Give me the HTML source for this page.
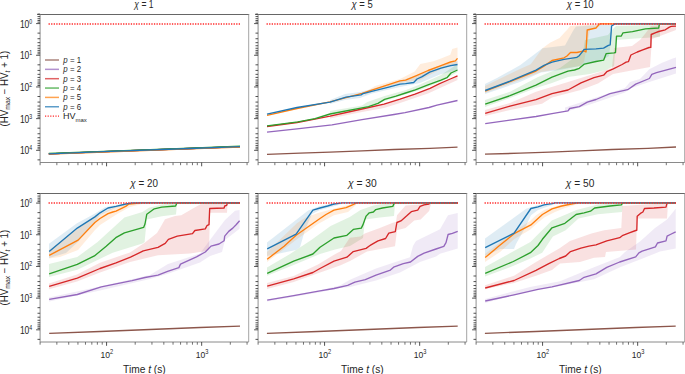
<!DOCTYPE html>
<html><head><meta charset="utf-8"><style>
html,body{margin:0;padding:0;background:#fff;overflow:hidden;}
svg{display:block;font-family:"Liberation Sans", sans-serif;}
</style></head><body>
<svg width="685" height="374" viewBox="0 0 685 374">
<rect width="685" height="374" fill="#fff"/>
<line x1="37.10" y1="14.50" x2="249.20" y2="14.50" stroke="#4a4a4a" stroke-width="0.85"/>
<line x1="40.10" y1="14.50" x2="40.10" y2="162.50" stroke="#999" stroke-width="1.1"/>
<line x1="248.70" y1="14.50" x2="248.70" y2="162.50" stroke="#a4a4a4" stroke-width="1.0"/>
<line x1="40.10" y1="162.50" x2="248.70" y2="162.50" stroke="#8a8a8a" stroke-width="1.0"/>
<line x1="40.10" y1="162.50" x2="40.10" y2="165.20" stroke="#5a5a5a" stroke-width="0.85"/>
<line x1="56.85" y1="162.50" x2="56.85" y2="165.20" stroke="#5a5a5a" stroke-width="0.85"/>
<line x1="68.73" y1="162.50" x2="68.73" y2="165.20" stroke="#5a5a5a" stroke-width="0.85"/>
<line x1="77.94" y1="162.50" x2="77.94" y2="165.20" stroke="#5a5a5a" stroke-width="0.85"/>
<line x1="85.47" y1="162.50" x2="85.47" y2="165.20" stroke="#5a5a5a" stroke-width="0.85"/>
<line x1="91.84" y1="162.50" x2="91.84" y2="165.20" stroke="#5a5a5a" stroke-width="0.85"/>
<line x1="97.36" y1="162.50" x2="97.36" y2="165.20" stroke="#5a5a5a" stroke-width="0.85"/>
<line x1="102.22" y1="162.50" x2="102.22" y2="165.20" stroke="#5a5a5a" stroke-width="0.85"/>
<line x1="106.57" y1="162.50" x2="106.57" y2="166.30" stroke="#333333" stroke-width="0.85"/>
<line x1="135.20" y1="162.50" x2="135.20" y2="165.20" stroke="#5a5a5a" stroke-width="0.85"/>
<line x1="151.95" y1="162.50" x2="151.95" y2="165.20" stroke="#5a5a5a" stroke-width="0.85"/>
<line x1="163.83" y1="162.50" x2="163.83" y2="165.20" stroke="#5a5a5a" stroke-width="0.85"/>
<line x1="173.04" y1="162.50" x2="173.04" y2="165.20" stroke="#5a5a5a" stroke-width="0.85"/>
<line x1="180.57" y1="162.50" x2="180.57" y2="165.20" stroke="#5a5a5a" stroke-width="0.85"/>
<line x1="186.94" y1="162.50" x2="186.94" y2="165.20" stroke="#5a5a5a" stroke-width="0.85"/>
<line x1="192.46" y1="162.50" x2="192.46" y2="165.20" stroke="#5a5a5a" stroke-width="0.85"/>
<line x1="197.32" y1="162.50" x2="197.32" y2="165.20" stroke="#5a5a5a" stroke-width="0.85"/>
<line x1="201.67" y1="162.50" x2="201.67" y2="166.30" stroke="#333333" stroke-width="0.85"/>
<line x1="230.30" y1="162.50" x2="230.30" y2="165.20" stroke="#5a5a5a" stroke-width="0.85"/>
<line x1="247.05" y1="162.50" x2="247.05" y2="165.20" stroke="#5a5a5a" stroke-width="0.85"/>
<line x1="37.50" y1="14.06" x2="40.10" y2="14.06" stroke="#333333" stroke-width="0.85"/>
<line x1="37.50" y1="16.57" x2="40.10" y2="16.57" stroke="#333333" stroke-width="0.85"/>
<line x1="37.50" y1="18.69" x2="40.10" y2="18.69" stroke="#333333" stroke-width="0.85"/>
<line x1="37.50" y1="20.53" x2="40.10" y2="20.53" stroke="#333333" stroke-width="0.85"/>
<line x1="37.50" y1="22.15" x2="40.10" y2="22.15" stroke="#333333" stroke-width="0.85"/>
<line x1="36.10" y1="23.60" x2="40.10" y2="23.60" stroke="#333333" stroke-width="0.85"/>
<line x1="37.50" y1="33.14" x2="40.10" y2="33.14" stroke="#333333" stroke-width="0.85"/>
<line x1="37.50" y1="38.72" x2="40.10" y2="38.72" stroke="#333333" stroke-width="0.85"/>
<line x1="37.50" y1="42.67" x2="40.10" y2="42.67" stroke="#333333" stroke-width="0.85"/>
<line x1="37.50" y1="45.74" x2="40.10" y2="45.74" stroke="#333333" stroke-width="0.85"/>
<line x1="37.50" y1="48.25" x2="40.10" y2="48.25" stroke="#333333" stroke-width="0.85"/>
<line x1="37.50" y1="50.37" x2="40.10" y2="50.37" stroke="#333333" stroke-width="0.85"/>
<line x1="37.50" y1="52.21" x2="40.10" y2="52.21" stroke="#333333" stroke-width="0.85"/>
<line x1="37.50" y1="53.83" x2="40.10" y2="53.83" stroke="#333333" stroke-width="0.85"/>
<line x1="36.10" y1="55.28" x2="40.10" y2="55.28" stroke="#333333" stroke-width="0.85"/>
<line x1="37.50" y1="64.82" x2="40.10" y2="64.82" stroke="#333333" stroke-width="0.85"/>
<line x1="37.50" y1="70.40" x2="40.10" y2="70.40" stroke="#333333" stroke-width="0.85"/>
<line x1="37.50" y1="74.35" x2="40.10" y2="74.35" stroke="#333333" stroke-width="0.85"/>
<line x1="37.50" y1="77.42" x2="40.10" y2="77.42" stroke="#333333" stroke-width="0.85"/>
<line x1="37.50" y1="79.93" x2="40.10" y2="79.93" stroke="#333333" stroke-width="0.85"/>
<line x1="37.50" y1="82.05" x2="40.10" y2="82.05" stroke="#333333" stroke-width="0.85"/>
<line x1="37.50" y1="83.89" x2="40.10" y2="83.89" stroke="#333333" stroke-width="0.85"/>
<line x1="37.50" y1="85.51" x2="40.10" y2="85.51" stroke="#333333" stroke-width="0.85"/>
<line x1="36.10" y1="86.96" x2="40.10" y2="86.96" stroke="#333333" stroke-width="0.85"/>
<line x1="37.50" y1="96.50" x2="40.10" y2="96.50" stroke="#333333" stroke-width="0.85"/>
<line x1="37.50" y1="102.08" x2="40.10" y2="102.08" stroke="#333333" stroke-width="0.85"/>
<line x1="37.50" y1="106.03" x2="40.10" y2="106.03" stroke="#333333" stroke-width="0.85"/>
<line x1="37.50" y1="109.10" x2="40.10" y2="109.10" stroke="#333333" stroke-width="0.85"/>
<line x1="37.50" y1="111.61" x2="40.10" y2="111.61" stroke="#333333" stroke-width="0.85"/>
<line x1="37.50" y1="113.73" x2="40.10" y2="113.73" stroke="#333333" stroke-width="0.85"/>
<line x1="37.50" y1="115.57" x2="40.10" y2="115.57" stroke="#333333" stroke-width="0.85"/>
<line x1="37.50" y1="117.19" x2="40.10" y2="117.19" stroke="#333333" stroke-width="0.85"/>
<line x1="36.10" y1="118.64" x2="40.10" y2="118.64" stroke="#333333" stroke-width="0.85"/>
<line x1="37.50" y1="128.18" x2="40.10" y2="128.18" stroke="#333333" stroke-width="0.85"/>
<line x1="37.50" y1="133.76" x2="40.10" y2="133.76" stroke="#333333" stroke-width="0.85"/>
<line x1="37.50" y1="137.71" x2="40.10" y2="137.71" stroke="#333333" stroke-width="0.85"/>
<line x1="37.50" y1="140.78" x2="40.10" y2="140.78" stroke="#333333" stroke-width="0.85"/>
<line x1="37.50" y1="143.29" x2="40.10" y2="143.29" stroke="#333333" stroke-width="0.85"/>
<line x1="37.50" y1="145.41" x2="40.10" y2="145.41" stroke="#333333" stroke-width="0.85"/>
<line x1="37.50" y1="147.25" x2="40.10" y2="147.25" stroke="#333333" stroke-width="0.85"/>
<line x1="37.50" y1="148.87" x2="40.10" y2="148.87" stroke="#333333" stroke-width="0.85"/>
<line x1="36.10" y1="150.32" x2="40.10" y2="150.32" stroke="#333333" stroke-width="0.85"/>
<line x1="37.50" y1="159.86" x2="40.10" y2="159.86" stroke="#333333" stroke-width="0.85"/>
<text transform="translate(143.90,7.80) scale(0.76,1)" font-size="11.2" text-anchor="middle" fill="#262626"><tspan font-style="italic">χ</tspan> = 1</text>
<text transform="translate(32.30,27.50) scale(0.82,1)" font-size="10.4" text-anchor="end" fill="#262626">10<tspan font-size="6.4" dy="-3.9">0</tspan></text>
<text transform="translate(32.30,59.18) scale(0.82,1)" font-size="10.4" text-anchor="end" fill="#262626">10<tspan font-size="6.4" dy="-3.9">1</tspan></text>
<text transform="translate(32.30,90.86) scale(0.82,1)" font-size="10.4" text-anchor="end" fill="#262626">10<tspan font-size="6.4" dy="-3.9">2</tspan></text>
<text transform="translate(32.30,122.54) scale(0.82,1)" font-size="10.4" text-anchor="end" fill="#262626">10<tspan font-size="6.4" dy="-3.9">3</tspan></text>
<text transform="translate(32.30,154.22) scale(0.82,1)" font-size="10.4" text-anchor="end" fill="#262626">10<tspan font-size="6.4" dy="-3.9">4</tspan></text>
<text transform="translate(7.8,88.65) rotate(-90) scale(0.97,1)" font-size="10.0" text-anchor="middle" fill="#262626">(HV<tspan font-size="7.0" dy="2.4">max</tspan><tspan dy="-2.4"> − HV</tspan><tspan font-size="7.0" dy="2.4" font-style="italic">t</tspan><tspan dy="-2.4"> + 1)</tspan></text>
<line x1="255.10" y1="14.50" x2="467.20" y2="14.50" stroke="#4a4a4a" stroke-width="0.85"/>
<line x1="258.10" y1="14.50" x2="258.10" y2="162.50" stroke="#999" stroke-width="1.1"/>
<line x1="466.70" y1="14.50" x2="466.70" y2="162.50" stroke="#a4a4a4" stroke-width="1.0"/>
<line x1="258.10" y1="162.50" x2="466.70" y2="162.50" stroke="#8a8a8a" stroke-width="1.0"/>
<line x1="258.10" y1="162.50" x2="258.10" y2="165.20" stroke="#5a5a5a" stroke-width="0.85"/>
<line x1="274.85" y1="162.50" x2="274.85" y2="165.20" stroke="#5a5a5a" stroke-width="0.85"/>
<line x1="286.73" y1="162.50" x2="286.73" y2="165.20" stroke="#5a5a5a" stroke-width="0.85"/>
<line x1="295.94" y1="162.50" x2="295.94" y2="165.20" stroke="#5a5a5a" stroke-width="0.85"/>
<line x1="303.47" y1="162.50" x2="303.47" y2="165.20" stroke="#5a5a5a" stroke-width="0.85"/>
<line x1="309.84" y1="162.50" x2="309.84" y2="165.20" stroke="#5a5a5a" stroke-width="0.85"/>
<line x1="315.36" y1="162.50" x2="315.36" y2="165.20" stroke="#5a5a5a" stroke-width="0.85"/>
<line x1="320.22" y1="162.50" x2="320.22" y2="165.20" stroke="#5a5a5a" stroke-width="0.85"/>
<line x1="324.57" y1="162.50" x2="324.57" y2="166.30" stroke="#333333" stroke-width="0.85"/>
<line x1="353.20" y1="162.50" x2="353.20" y2="165.20" stroke="#5a5a5a" stroke-width="0.85"/>
<line x1="369.95" y1="162.50" x2="369.95" y2="165.20" stroke="#5a5a5a" stroke-width="0.85"/>
<line x1="381.83" y1="162.50" x2="381.83" y2="165.20" stroke="#5a5a5a" stroke-width="0.85"/>
<line x1="391.04" y1="162.50" x2="391.04" y2="165.20" stroke="#5a5a5a" stroke-width="0.85"/>
<line x1="398.57" y1="162.50" x2="398.57" y2="165.20" stroke="#5a5a5a" stroke-width="0.85"/>
<line x1="404.94" y1="162.50" x2="404.94" y2="165.20" stroke="#5a5a5a" stroke-width="0.85"/>
<line x1="410.46" y1="162.50" x2="410.46" y2="165.20" stroke="#5a5a5a" stroke-width="0.85"/>
<line x1="415.32" y1="162.50" x2="415.32" y2="165.20" stroke="#5a5a5a" stroke-width="0.85"/>
<line x1="419.67" y1="162.50" x2="419.67" y2="166.30" stroke="#333333" stroke-width="0.85"/>
<line x1="448.30" y1="162.50" x2="448.30" y2="165.20" stroke="#5a5a5a" stroke-width="0.85"/>
<line x1="465.05" y1="162.50" x2="465.05" y2="165.20" stroke="#5a5a5a" stroke-width="0.85"/>
<line x1="255.50" y1="14.06" x2="258.10" y2="14.06" stroke="#333333" stroke-width="0.85"/>
<line x1="255.50" y1="16.57" x2="258.10" y2="16.57" stroke="#333333" stroke-width="0.85"/>
<line x1="255.50" y1="18.69" x2="258.10" y2="18.69" stroke="#333333" stroke-width="0.85"/>
<line x1="255.50" y1="20.53" x2="258.10" y2="20.53" stroke="#333333" stroke-width="0.85"/>
<line x1="255.50" y1="22.15" x2="258.10" y2="22.15" stroke="#333333" stroke-width="0.85"/>
<line x1="254.10" y1="23.60" x2="258.10" y2="23.60" stroke="#333333" stroke-width="0.85"/>
<line x1="255.50" y1="33.14" x2="258.10" y2="33.14" stroke="#333333" stroke-width="0.85"/>
<line x1="255.50" y1="38.72" x2="258.10" y2="38.72" stroke="#333333" stroke-width="0.85"/>
<line x1="255.50" y1="42.67" x2="258.10" y2="42.67" stroke="#333333" stroke-width="0.85"/>
<line x1="255.50" y1="45.74" x2="258.10" y2="45.74" stroke="#333333" stroke-width="0.85"/>
<line x1="255.50" y1="48.25" x2="258.10" y2="48.25" stroke="#333333" stroke-width="0.85"/>
<line x1="255.50" y1="50.37" x2="258.10" y2="50.37" stroke="#333333" stroke-width="0.85"/>
<line x1="255.50" y1="52.21" x2="258.10" y2="52.21" stroke="#333333" stroke-width="0.85"/>
<line x1="255.50" y1="53.83" x2="258.10" y2="53.83" stroke="#333333" stroke-width="0.85"/>
<line x1="254.10" y1="55.28" x2="258.10" y2="55.28" stroke="#333333" stroke-width="0.85"/>
<line x1="255.50" y1="64.82" x2="258.10" y2="64.82" stroke="#333333" stroke-width="0.85"/>
<line x1="255.50" y1="70.40" x2="258.10" y2="70.40" stroke="#333333" stroke-width="0.85"/>
<line x1="255.50" y1="74.35" x2="258.10" y2="74.35" stroke="#333333" stroke-width="0.85"/>
<line x1="255.50" y1="77.42" x2="258.10" y2="77.42" stroke="#333333" stroke-width="0.85"/>
<line x1="255.50" y1="79.93" x2="258.10" y2="79.93" stroke="#333333" stroke-width="0.85"/>
<line x1="255.50" y1="82.05" x2="258.10" y2="82.05" stroke="#333333" stroke-width="0.85"/>
<line x1="255.50" y1="83.89" x2="258.10" y2="83.89" stroke="#333333" stroke-width="0.85"/>
<line x1="255.50" y1="85.51" x2="258.10" y2="85.51" stroke="#333333" stroke-width="0.85"/>
<line x1="254.10" y1="86.96" x2="258.10" y2="86.96" stroke="#333333" stroke-width="0.85"/>
<line x1="255.50" y1="96.50" x2="258.10" y2="96.50" stroke="#333333" stroke-width="0.85"/>
<line x1="255.50" y1="102.08" x2="258.10" y2="102.08" stroke="#333333" stroke-width="0.85"/>
<line x1="255.50" y1="106.03" x2="258.10" y2="106.03" stroke="#333333" stroke-width="0.85"/>
<line x1="255.50" y1="109.10" x2="258.10" y2="109.10" stroke="#333333" stroke-width="0.85"/>
<line x1="255.50" y1="111.61" x2="258.10" y2="111.61" stroke="#333333" stroke-width="0.85"/>
<line x1="255.50" y1="113.73" x2="258.10" y2="113.73" stroke="#333333" stroke-width="0.85"/>
<line x1="255.50" y1="115.57" x2="258.10" y2="115.57" stroke="#333333" stroke-width="0.85"/>
<line x1="255.50" y1="117.19" x2="258.10" y2="117.19" stroke="#333333" stroke-width="0.85"/>
<line x1="254.10" y1="118.64" x2="258.10" y2="118.64" stroke="#333333" stroke-width="0.85"/>
<line x1="255.50" y1="128.18" x2="258.10" y2="128.18" stroke="#333333" stroke-width="0.85"/>
<line x1="255.50" y1="133.76" x2="258.10" y2="133.76" stroke="#333333" stroke-width="0.85"/>
<line x1="255.50" y1="137.71" x2="258.10" y2="137.71" stroke="#333333" stroke-width="0.85"/>
<line x1="255.50" y1="140.78" x2="258.10" y2="140.78" stroke="#333333" stroke-width="0.85"/>
<line x1="255.50" y1="143.29" x2="258.10" y2="143.29" stroke="#333333" stroke-width="0.85"/>
<line x1="255.50" y1="145.41" x2="258.10" y2="145.41" stroke="#333333" stroke-width="0.85"/>
<line x1="255.50" y1="147.25" x2="258.10" y2="147.25" stroke="#333333" stroke-width="0.85"/>
<line x1="255.50" y1="148.87" x2="258.10" y2="148.87" stroke="#333333" stroke-width="0.85"/>
<line x1="254.10" y1="150.32" x2="258.10" y2="150.32" stroke="#333333" stroke-width="0.85"/>
<line x1="255.50" y1="159.86" x2="258.10" y2="159.86" stroke="#333333" stroke-width="0.85"/>
<text transform="translate(362.05,7.80) scale(0.845,1)" font-size="11.2" text-anchor="middle" fill="#262626"><tspan font-style="italic">χ</tspan> = 5</text>
<line x1="473.10" y1="14.50" x2="685.20" y2="14.50" stroke="#4a4a4a" stroke-width="0.85"/>
<line x1="476.10" y1="14.50" x2="476.10" y2="162.50" stroke="#999" stroke-width="1.1"/>
<line x1="684.70" y1="14.50" x2="684.70" y2="162.50" stroke="#a4a4a4" stroke-width="1.0"/>
<line x1="476.10" y1="162.50" x2="684.70" y2="162.50" stroke="#8a8a8a" stroke-width="1.0"/>
<line x1="476.10" y1="162.50" x2="476.10" y2="165.20" stroke="#5a5a5a" stroke-width="0.85"/>
<line x1="492.85" y1="162.50" x2="492.85" y2="165.20" stroke="#5a5a5a" stroke-width="0.85"/>
<line x1="504.73" y1="162.50" x2="504.73" y2="165.20" stroke="#5a5a5a" stroke-width="0.85"/>
<line x1="513.94" y1="162.50" x2="513.94" y2="165.20" stroke="#5a5a5a" stroke-width="0.85"/>
<line x1="521.47" y1="162.50" x2="521.47" y2="165.20" stroke="#5a5a5a" stroke-width="0.85"/>
<line x1="527.84" y1="162.50" x2="527.84" y2="165.20" stroke="#5a5a5a" stroke-width="0.85"/>
<line x1="533.36" y1="162.50" x2="533.36" y2="165.20" stroke="#5a5a5a" stroke-width="0.85"/>
<line x1="538.22" y1="162.50" x2="538.22" y2="165.20" stroke="#5a5a5a" stroke-width="0.85"/>
<line x1="542.57" y1="162.50" x2="542.57" y2="166.30" stroke="#333333" stroke-width="0.85"/>
<line x1="571.20" y1="162.50" x2="571.20" y2="165.20" stroke="#5a5a5a" stroke-width="0.85"/>
<line x1="587.95" y1="162.50" x2="587.95" y2="165.20" stroke="#5a5a5a" stroke-width="0.85"/>
<line x1="599.83" y1="162.50" x2="599.83" y2="165.20" stroke="#5a5a5a" stroke-width="0.85"/>
<line x1="609.04" y1="162.50" x2="609.04" y2="165.20" stroke="#5a5a5a" stroke-width="0.85"/>
<line x1="616.57" y1="162.50" x2="616.57" y2="165.20" stroke="#5a5a5a" stroke-width="0.85"/>
<line x1="622.94" y1="162.50" x2="622.94" y2="165.20" stroke="#5a5a5a" stroke-width="0.85"/>
<line x1="628.46" y1="162.50" x2="628.46" y2="165.20" stroke="#5a5a5a" stroke-width="0.85"/>
<line x1="633.32" y1="162.50" x2="633.32" y2="165.20" stroke="#5a5a5a" stroke-width="0.85"/>
<line x1="637.67" y1="162.50" x2="637.67" y2="166.30" stroke="#333333" stroke-width="0.85"/>
<line x1="666.30" y1="162.50" x2="666.30" y2="165.20" stroke="#5a5a5a" stroke-width="0.85"/>
<line x1="683.05" y1="162.50" x2="683.05" y2="165.20" stroke="#5a5a5a" stroke-width="0.85"/>
<line x1="473.50" y1="14.06" x2="476.10" y2="14.06" stroke="#333333" stroke-width="0.85"/>
<line x1="473.50" y1="16.57" x2="476.10" y2="16.57" stroke="#333333" stroke-width="0.85"/>
<line x1="473.50" y1="18.69" x2="476.10" y2="18.69" stroke="#333333" stroke-width="0.85"/>
<line x1="473.50" y1="20.53" x2="476.10" y2="20.53" stroke="#333333" stroke-width="0.85"/>
<line x1="473.50" y1="22.15" x2="476.10" y2="22.15" stroke="#333333" stroke-width="0.85"/>
<line x1="472.10" y1="23.60" x2="476.10" y2="23.60" stroke="#333333" stroke-width="0.85"/>
<line x1="473.50" y1="33.14" x2="476.10" y2="33.14" stroke="#333333" stroke-width="0.85"/>
<line x1="473.50" y1="38.72" x2="476.10" y2="38.72" stroke="#333333" stroke-width="0.85"/>
<line x1="473.50" y1="42.67" x2="476.10" y2="42.67" stroke="#333333" stroke-width="0.85"/>
<line x1="473.50" y1="45.74" x2="476.10" y2="45.74" stroke="#333333" stroke-width="0.85"/>
<line x1="473.50" y1="48.25" x2="476.10" y2="48.25" stroke="#333333" stroke-width="0.85"/>
<line x1="473.50" y1="50.37" x2="476.10" y2="50.37" stroke="#333333" stroke-width="0.85"/>
<line x1="473.50" y1="52.21" x2="476.10" y2="52.21" stroke="#333333" stroke-width="0.85"/>
<line x1="473.50" y1="53.83" x2="476.10" y2="53.83" stroke="#333333" stroke-width="0.85"/>
<line x1="472.10" y1="55.28" x2="476.10" y2="55.28" stroke="#333333" stroke-width="0.85"/>
<line x1="473.50" y1="64.82" x2="476.10" y2="64.82" stroke="#333333" stroke-width="0.85"/>
<line x1="473.50" y1="70.40" x2="476.10" y2="70.40" stroke="#333333" stroke-width="0.85"/>
<line x1="473.50" y1="74.35" x2="476.10" y2="74.35" stroke="#333333" stroke-width="0.85"/>
<line x1="473.50" y1="77.42" x2="476.10" y2="77.42" stroke="#333333" stroke-width="0.85"/>
<line x1="473.50" y1="79.93" x2="476.10" y2="79.93" stroke="#333333" stroke-width="0.85"/>
<line x1="473.50" y1="82.05" x2="476.10" y2="82.05" stroke="#333333" stroke-width="0.85"/>
<line x1="473.50" y1="83.89" x2="476.10" y2="83.89" stroke="#333333" stroke-width="0.85"/>
<line x1="473.50" y1="85.51" x2="476.10" y2="85.51" stroke="#333333" stroke-width="0.85"/>
<line x1="472.10" y1="86.96" x2="476.10" y2="86.96" stroke="#333333" stroke-width="0.85"/>
<line x1="473.50" y1="96.50" x2="476.10" y2="96.50" stroke="#333333" stroke-width="0.85"/>
<line x1="473.50" y1="102.08" x2="476.10" y2="102.08" stroke="#333333" stroke-width="0.85"/>
<line x1="473.50" y1="106.03" x2="476.10" y2="106.03" stroke="#333333" stroke-width="0.85"/>
<line x1="473.50" y1="109.10" x2="476.10" y2="109.10" stroke="#333333" stroke-width="0.85"/>
<line x1="473.50" y1="111.61" x2="476.10" y2="111.61" stroke="#333333" stroke-width="0.85"/>
<line x1="473.50" y1="113.73" x2="476.10" y2="113.73" stroke="#333333" stroke-width="0.85"/>
<line x1="473.50" y1="115.57" x2="476.10" y2="115.57" stroke="#333333" stroke-width="0.85"/>
<line x1="473.50" y1="117.19" x2="476.10" y2="117.19" stroke="#333333" stroke-width="0.85"/>
<line x1="472.10" y1="118.64" x2="476.10" y2="118.64" stroke="#333333" stroke-width="0.85"/>
<line x1="473.50" y1="128.18" x2="476.10" y2="128.18" stroke="#333333" stroke-width="0.85"/>
<line x1="473.50" y1="133.76" x2="476.10" y2="133.76" stroke="#333333" stroke-width="0.85"/>
<line x1="473.50" y1="137.71" x2="476.10" y2="137.71" stroke="#333333" stroke-width="0.85"/>
<line x1="473.50" y1="140.78" x2="476.10" y2="140.78" stroke="#333333" stroke-width="0.85"/>
<line x1="473.50" y1="143.29" x2="476.10" y2="143.29" stroke="#333333" stroke-width="0.85"/>
<line x1="473.50" y1="145.41" x2="476.10" y2="145.41" stroke="#333333" stroke-width="0.85"/>
<line x1="473.50" y1="147.25" x2="476.10" y2="147.25" stroke="#333333" stroke-width="0.85"/>
<line x1="473.50" y1="148.87" x2="476.10" y2="148.87" stroke="#333333" stroke-width="0.85"/>
<line x1="472.10" y1="150.32" x2="476.10" y2="150.32" stroke="#333333" stroke-width="0.85"/>
<line x1="473.50" y1="159.86" x2="476.10" y2="159.86" stroke="#333333" stroke-width="0.85"/>
<text transform="translate(580.20,7.80) scale(0.855,1)" font-size="11.2" text-anchor="middle" fill="#262626"><tspan font-style="italic">χ</tspan> = 10</text>
<line x1="37.10" y1="193.50" x2="249.20" y2="193.50" stroke="#4a4a4a" stroke-width="0.85"/>
<line x1="40.10" y1="193.50" x2="40.10" y2="342.00" stroke="#999" stroke-width="1.1"/>
<line x1="248.70" y1="193.50" x2="248.70" y2="342.00" stroke="#a4a4a4" stroke-width="1.0"/>
<line x1="40.10" y1="342.00" x2="248.70" y2="342.00" stroke="#8a8a8a" stroke-width="1.0"/>
<line x1="40.10" y1="342.00" x2="40.10" y2="344.70" stroke="#5a5a5a" stroke-width="0.85"/>
<line x1="56.85" y1="342.00" x2="56.85" y2="344.70" stroke="#5a5a5a" stroke-width="0.85"/>
<line x1="68.73" y1="342.00" x2="68.73" y2="344.70" stroke="#5a5a5a" stroke-width="0.85"/>
<line x1="77.94" y1="342.00" x2="77.94" y2="344.70" stroke="#5a5a5a" stroke-width="0.85"/>
<line x1="85.47" y1="342.00" x2="85.47" y2="344.70" stroke="#5a5a5a" stroke-width="0.85"/>
<line x1="91.84" y1="342.00" x2="91.84" y2="344.70" stroke="#5a5a5a" stroke-width="0.85"/>
<line x1="97.36" y1="342.00" x2="97.36" y2="344.70" stroke="#5a5a5a" stroke-width="0.85"/>
<line x1="102.22" y1="342.00" x2="102.22" y2="344.70" stroke="#5a5a5a" stroke-width="0.85"/>
<line x1="106.57" y1="342.00" x2="106.57" y2="345.80" stroke="#333333" stroke-width="0.85"/>
<line x1="135.20" y1="342.00" x2="135.20" y2="344.70" stroke="#5a5a5a" stroke-width="0.85"/>
<line x1="151.95" y1="342.00" x2="151.95" y2="344.70" stroke="#5a5a5a" stroke-width="0.85"/>
<line x1="163.83" y1="342.00" x2="163.83" y2="344.70" stroke="#5a5a5a" stroke-width="0.85"/>
<line x1="173.04" y1="342.00" x2="173.04" y2="344.70" stroke="#5a5a5a" stroke-width="0.85"/>
<line x1="180.57" y1="342.00" x2="180.57" y2="344.70" stroke="#5a5a5a" stroke-width="0.85"/>
<line x1="186.94" y1="342.00" x2="186.94" y2="344.70" stroke="#5a5a5a" stroke-width="0.85"/>
<line x1="192.46" y1="342.00" x2="192.46" y2="344.70" stroke="#5a5a5a" stroke-width="0.85"/>
<line x1="197.32" y1="342.00" x2="197.32" y2="344.70" stroke="#5a5a5a" stroke-width="0.85"/>
<line x1="201.67" y1="342.00" x2="201.67" y2="345.80" stroke="#333333" stroke-width="0.85"/>
<line x1="230.30" y1="342.00" x2="230.30" y2="344.70" stroke="#5a5a5a" stroke-width="0.85"/>
<line x1="247.05" y1="342.00" x2="247.05" y2="344.70" stroke="#5a5a5a" stroke-width="0.85"/>
<line x1="37.50" y1="193.56" x2="40.10" y2="193.56" stroke="#333333" stroke-width="0.85"/>
<line x1="37.50" y1="196.07" x2="40.10" y2="196.07" stroke="#333333" stroke-width="0.85"/>
<line x1="37.50" y1="198.19" x2="40.10" y2="198.19" stroke="#333333" stroke-width="0.85"/>
<line x1="37.50" y1="200.03" x2="40.10" y2="200.03" stroke="#333333" stroke-width="0.85"/>
<line x1="37.50" y1="201.65" x2="40.10" y2="201.65" stroke="#333333" stroke-width="0.85"/>
<line x1="36.10" y1="203.10" x2="40.10" y2="203.10" stroke="#333333" stroke-width="0.85"/>
<line x1="37.50" y1="212.64" x2="40.10" y2="212.64" stroke="#333333" stroke-width="0.85"/>
<line x1="37.50" y1="218.22" x2="40.10" y2="218.22" stroke="#333333" stroke-width="0.85"/>
<line x1="37.50" y1="222.17" x2="40.10" y2="222.17" stroke="#333333" stroke-width="0.85"/>
<line x1="37.50" y1="225.24" x2="40.10" y2="225.24" stroke="#333333" stroke-width="0.85"/>
<line x1="37.50" y1="227.75" x2="40.10" y2="227.75" stroke="#333333" stroke-width="0.85"/>
<line x1="37.50" y1="229.87" x2="40.10" y2="229.87" stroke="#333333" stroke-width="0.85"/>
<line x1="37.50" y1="231.71" x2="40.10" y2="231.71" stroke="#333333" stroke-width="0.85"/>
<line x1="37.50" y1="233.33" x2="40.10" y2="233.33" stroke="#333333" stroke-width="0.85"/>
<line x1="36.10" y1="234.78" x2="40.10" y2="234.78" stroke="#333333" stroke-width="0.85"/>
<line x1="37.50" y1="244.32" x2="40.10" y2="244.32" stroke="#333333" stroke-width="0.85"/>
<line x1="37.50" y1="249.90" x2="40.10" y2="249.90" stroke="#333333" stroke-width="0.85"/>
<line x1="37.50" y1="253.85" x2="40.10" y2="253.85" stroke="#333333" stroke-width="0.85"/>
<line x1="37.50" y1="256.92" x2="40.10" y2="256.92" stroke="#333333" stroke-width="0.85"/>
<line x1="37.50" y1="259.43" x2="40.10" y2="259.43" stroke="#333333" stroke-width="0.85"/>
<line x1="37.50" y1="261.55" x2="40.10" y2="261.55" stroke="#333333" stroke-width="0.85"/>
<line x1="37.50" y1="263.39" x2="40.10" y2="263.39" stroke="#333333" stroke-width="0.85"/>
<line x1="37.50" y1="265.01" x2="40.10" y2="265.01" stroke="#333333" stroke-width="0.85"/>
<line x1="36.10" y1="266.46" x2="40.10" y2="266.46" stroke="#333333" stroke-width="0.85"/>
<line x1="37.50" y1="276.00" x2="40.10" y2="276.00" stroke="#333333" stroke-width="0.85"/>
<line x1="37.50" y1="281.58" x2="40.10" y2="281.58" stroke="#333333" stroke-width="0.85"/>
<line x1="37.50" y1="285.53" x2="40.10" y2="285.53" stroke="#333333" stroke-width="0.85"/>
<line x1="37.50" y1="288.60" x2="40.10" y2="288.60" stroke="#333333" stroke-width="0.85"/>
<line x1="37.50" y1="291.11" x2="40.10" y2="291.11" stroke="#333333" stroke-width="0.85"/>
<line x1="37.50" y1="293.23" x2="40.10" y2="293.23" stroke="#333333" stroke-width="0.85"/>
<line x1="37.50" y1="295.07" x2="40.10" y2="295.07" stroke="#333333" stroke-width="0.85"/>
<line x1="37.50" y1="296.69" x2="40.10" y2="296.69" stroke="#333333" stroke-width="0.85"/>
<line x1="36.10" y1="298.14" x2="40.10" y2="298.14" stroke="#333333" stroke-width="0.85"/>
<line x1="37.50" y1="307.68" x2="40.10" y2="307.68" stroke="#333333" stroke-width="0.85"/>
<line x1="37.50" y1="313.26" x2="40.10" y2="313.26" stroke="#333333" stroke-width="0.85"/>
<line x1="37.50" y1="317.21" x2="40.10" y2="317.21" stroke="#333333" stroke-width="0.85"/>
<line x1="37.50" y1="320.28" x2="40.10" y2="320.28" stroke="#333333" stroke-width="0.85"/>
<line x1="37.50" y1="322.79" x2="40.10" y2="322.79" stroke="#333333" stroke-width="0.85"/>
<line x1="37.50" y1="324.91" x2="40.10" y2="324.91" stroke="#333333" stroke-width="0.85"/>
<line x1="37.50" y1="326.75" x2="40.10" y2="326.75" stroke="#333333" stroke-width="0.85"/>
<line x1="37.50" y1="328.37" x2="40.10" y2="328.37" stroke="#333333" stroke-width="0.85"/>
<line x1="36.10" y1="329.82" x2="40.10" y2="329.82" stroke="#333333" stroke-width="0.85"/>
<line x1="37.50" y1="339.36" x2="40.10" y2="339.36" stroke="#333333" stroke-width="0.85"/>
<text transform="translate(144.10,187.20) scale(0.88,1)" font-size="11.2" text-anchor="middle" fill="#262626"><tspan font-style="italic">χ</tspan> = 20</text>
<text transform="translate(32.30,207.00) scale(0.82,1)" font-size="10.4" text-anchor="end" fill="#262626">10<tspan font-size="6.4" dy="-3.9">0</tspan></text>
<text transform="translate(32.30,238.68) scale(0.82,1)" font-size="10.4" text-anchor="end" fill="#262626">10<tspan font-size="6.4" dy="-3.9">1</tspan></text>
<text transform="translate(32.30,270.36) scale(0.82,1)" font-size="10.4" text-anchor="end" fill="#262626">10<tspan font-size="6.4" dy="-3.9">2</tspan></text>
<text transform="translate(32.30,302.04) scale(0.82,1)" font-size="10.4" text-anchor="end" fill="#262626">10<tspan font-size="6.4" dy="-3.9">3</tspan></text>
<text transform="translate(32.30,333.72) scale(0.82,1)" font-size="10.4" text-anchor="end" fill="#262626">10<tspan font-size="6.4" dy="-3.9">4</tspan></text>
<text transform="translate(7.8,267.65) rotate(-90) scale(0.97,1)" font-size="10.0" text-anchor="middle" fill="#262626">(HV<tspan font-size="7.0" dy="2.4">max</tspan><tspan dy="-2.4"> − HV</tspan><tspan font-size="7.0" dy="2.4" font-style="italic">t</tspan><tspan dy="-2.4"> + 1)</tspan></text>
<text transform="translate(106.87,357.90) scale(0.9,1)" font-size="9.5" text-anchor="middle" fill="#262626">10<tspan font-size="6.3" dy="-3.9">2</tspan></text>
<text transform="translate(201.97,357.90) scale(0.9,1)" font-size="9.5" text-anchor="middle" fill="#262626">10<tspan font-size="6.3" dy="-3.9">3</tspan></text>
<text x="144.40" y="372.60" font-size="10.2" text-anchor="middle" fill="#262626">Time <tspan font-style="italic">t</tspan> (s)</text>
<line x1="255.10" y1="193.50" x2="467.20" y2="193.50" stroke="#4a4a4a" stroke-width="0.85"/>
<line x1="258.10" y1="193.50" x2="258.10" y2="342.00" stroke="#999" stroke-width="1.1"/>
<line x1="466.70" y1="193.50" x2="466.70" y2="342.00" stroke="#a4a4a4" stroke-width="1.0"/>
<line x1="258.10" y1="342.00" x2="466.70" y2="342.00" stroke="#8a8a8a" stroke-width="1.0"/>
<line x1="258.10" y1="342.00" x2="258.10" y2="344.70" stroke="#5a5a5a" stroke-width="0.85"/>
<line x1="274.85" y1="342.00" x2="274.85" y2="344.70" stroke="#5a5a5a" stroke-width="0.85"/>
<line x1="286.73" y1="342.00" x2="286.73" y2="344.70" stroke="#5a5a5a" stroke-width="0.85"/>
<line x1="295.94" y1="342.00" x2="295.94" y2="344.70" stroke="#5a5a5a" stroke-width="0.85"/>
<line x1="303.47" y1="342.00" x2="303.47" y2="344.70" stroke="#5a5a5a" stroke-width="0.85"/>
<line x1="309.84" y1="342.00" x2="309.84" y2="344.70" stroke="#5a5a5a" stroke-width="0.85"/>
<line x1="315.36" y1="342.00" x2="315.36" y2="344.70" stroke="#5a5a5a" stroke-width="0.85"/>
<line x1="320.22" y1="342.00" x2="320.22" y2="344.70" stroke="#5a5a5a" stroke-width="0.85"/>
<line x1="324.57" y1="342.00" x2="324.57" y2="345.80" stroke="#333333" stroke-width="0.85"/>
<line x1="353.20" y1="342.00" x2="353.20" y2="344.70" stroke="#5a5a5a" stroke-width="0.85"/>
<line x1="369.95" y1="342.00" x2="369.95" y2="344.70" stroke="#5a5a5a" stroke-width="0.85"/>
<line x1="381.83" y1="342.00" x2="381.83" y2="344.70" stroke="#5a5a5a" stroke-width="0.85"/>
<line x1="391.04" y1="342.00" x2="391.04" y2="344.70" stroke="#5a5a5a" stroke-width="0.85"/>
<line x1="398.57" y1="342.00" x2="398.57" y2="344.70" stroke="#5a5a5a" stroke-width="0.85"/>
<line x1="404.94" y1="342.00" x2="404.94" y2="344.70" stroke="#5a5a5a" stroke-width="0.85"/>
<line x1="410.46" y1="342.00" x2="410.46" y2="344.70" stroke="#5a5a5a" stroke-width="0.85"/>
<line x1="415.32" y1="342.00" x2="415.32" y2="344.70" stroke="#5a5a5a" stroke-width="0.85"/>
<line x1="419.67" y1="342.00" x2="419.67" y2="345.80" stroke="#333333" stroke-width="0.85"/>
<line x1="448.30" y1="342.00" x2="448.30" y2="344.70" stroke="#5a5a5a" stroke-width="0.85"/>
<line x1="465.05" y1="342.00" x2="465.05" y2="344.70" stroke="#5a5a5a" stroke-width="0.85"/>
<line x1="255.50" y1="193.56" x2="258.10" y2="193.56" stroke="#333333" stroke-width="0.85"/>
<line x1="255.50" y1="196.07" x2="258.10" y2="196.07" stroke="#333333" stroke-width="0.85"/>
<line x1="255.50" y1="198.19" x2="258.10" y2="198.19" stroke="#333333" stroke-width="0.85"/>
<line x1="255.50" y1="200.03" x2="258.10" y2="200.03" stroke="#333333" stroke-width="0.85"/>
<line x1="255.50" y1="201.65" x2="258.10" y2="201.65" stroke="#333333" stroke-width="0.85"/>
<line x1="254.10" y1="203.10" x2="258.10" y2="203.10" stroke="#333333" stroke-width="0.85"/>
<line x1="255.50" y1="212.64" x2="258.10" y2="212.64" stroke="#333333" stroke-width="0.85"/>
<line x1="255.50" y1="218.22" x2="258.10" y2="218.22" stroke="#333333" stroke-width="0.85"/>
<line x1="255.50" y1="222.17" x2="258.10" y2="222.17" stroke="#333333" stroke-width="0.85"/>
<line x1="255.50" y1="225.24" x2="258.10" y2="225.24" stroke="#333333" stroke-width="0.85"/>
<line x1="255.50" y1="227.75" x2="258.10" y2="227.75" stroke="#333333" stroke-width="0.85"/>
<line x1="255.50" y1="229.87" x2="258.10" y2="229.87" stroke="#333333" stroke-width="0.85"/>
<line x1="255.50" y1="231.71" x2="258.10" y2="231.71" stroke="#333333" stroke-width="0.85"/>
<line x1="255.50" y1="233.33" x2="258.10" y2="233.33" stroke="#333333" stroke-width="0.85"/>
<line x1="254.10" y1="234.78" x2="258.10" y2="234.78" stroke="#333333" stroke-width="0.85"/>
<line x1="255.50" y1="244.32" x2="258.10" y2="244.32" stroke="#333333" stroke-width="0.85"/>
<line x1="255.50" y1="249.90" x2="258.10" y2="249.90" stroke="#333333" stroke-width="0.85"/>
<line x1="255.50" y1="253.85" x2="258.10" y2="253.85" stroke="#333333" stroke-width="0.85"/>
<line x1="255.50" y1="256.92" x2="258.10" y2="256.92" stroke="#333333" stroke-width="0.85"/>
<line x1="255.50" y1="259.43" x2="258.10" y2="259.43" stroke="#333333" stroke-width="0.85"/>
<line x1="255.50" y1="261.55" x2="258.10" y2="261.55" stroke="#333333" stroke-width="0.85"/>
<line x1="255.50" y1="263.39" x2="258.10" y2="263.39" stroke="#333333" stroke-width="0.85"/>
<line x1="255.50" y1="265.01" x2="258.10" y2="265.01" stroke="#333333" stroke-width="0.85"/>
<line x1="254.10" y1="266.46" x2="258.10" y2="266.46" stroke="#333333" stroke-width="0.85"/>
<line x1="255.50" y1="276.00" x2="258.10" y2="276.00" stroke="#333333" stroke-width="0.85"/>
<line x1="255.50" y1="281.58" x2="258.10" y2="281.58" stroke="#333333" stroke-width="0.85"/>
<line x1="255.50" y1="285.53" x2="258.10" y2="285.53" stroke="#333333" stroke-width="0.85"/>
<line x1="255.50" y1="288.60" x2="258.10" y2="288.60" stroke="#333333" stroke-width="0.85"/>
<line x1="255.50" y1="291.11" x2="258.10" y2="291.11" stroke="#333333" stroke-width="0.85"/>
<line x1="255.50" y1="293.23" x2="258.10" y2="293.23" stroke="#333333" stroke-width="0.85"/>
<line x1="255.50" y1="295.07" x2="258.10" y2="295.07" stroke="#333333" stroke-width="0.85"/>
<line x1="255.50" y1="296.69" x2="258.10" y2="296.69" stroke="#333333" stroke-width="0.85"/>
<line x1="254.10" y1="298.14" x2="258.10" y2="298.14" stroke="#333333" stroke-width="0.85"/>
<line x1="255.50" y1="307.68" x2="258.10" y2="307.68" stroke="#333333" stroke-width="0.85"/>
<line x1="255.50" y1="313.26" x2="258.10" y2="313.26" stroke="#333333" stroke-width="0.85"/>
<line x1="255.50" y1="317.21" x2="258.10" y2="317.21" stroke="#333333" stroke-width="0.85"/>
<line x1="255.50" y1="320.28" x2="258.10" y2="320.28" stroke="#333333" stroke-width="0.85"/>
<line x1="255.50" y1="322.79" x2="258.10" y2="322.79" stroke="#333333" stroke-width="0.85"/>
<line x1="255.50" y1="324.91" x2="258.10" y2="324.91" stroke="#333333" stroke-width="0.85"/>
<line x1="255.50" y1="326.75" x2="258.10" y2="326.75" stroke="#333333" stroke-width="0.85"/>
<line x1="255.50" y1="328.37" x2="258.10" y2="328.37" stroke="#333333" stroke-width="0.85"/>
<line x1="254.10" y1="329.82" x2="258.10" y2="329.82" stroke="#333333" stroke-width="0.85"/>
<line x1="255.50" y1="339.36" x2="258.10" y2="339.36" stroke="#333333" stroke-width="0.85"/>
<text transform="translate(362.35,187.20) scale(0.92,1)" font-size="11.2" text-anchor="middle" fill="#262626"><tspan font-style="italic">χ</tspan> = 30</text>
<text transform="translate(324.87,357.90) scale(0.9,1)" font-size="9.5" text-anchor="middle" fill="#262626">10<tspan font-size="6.3" dy="-3.9">2</tspan></text>
<text transform="translate(419.97,357.90) scale(0.9,1)" font-size="9.5" text-anchor="middle" fill="#262626">10<tspan font-size="6.3" dy="-3.9">3</tspan></text>
<text x="362.40" y="372.60" font-size="10.2" text-anchor="middle" fill="#262626">Time <tspan font-style="italic">t</tspan> (s)</text>
<line x1="473.10" y1="193.50" x2="685.20" y2="193.50" stroke="#4a4a4a" stroke-width="0.85"/>
<line x1="476.10" y1="193.50" x2="476.10" y2="342.00" stroke="#999" stroke-width="1.1"/>
<line x1="684.70" y1="193.50" x2="684.70" y2="342.00" stroke="#a4a4a4" stroke-width="1.0"/>
<line x1="476.10" y1="342.00" x2="684.70" y2="342.00" stroke="#8a8a8a" stroke-width="1.0"/>
<line x1="476.10" y1="342.00" x2="476.10" y2="344.70" stroke="#5a5a5a" stroke-width="0.85"/>
<line x1="492.85" y1="342.00" x2="492.85" y2="344.70" stroke="#5a5a5a" stroke-width="0.85"/>
<line x1="504.73" y1="342.00" x2="504.73" y2="344.70" stroke="#5a5a5a" stroke-width="0.85"/>
<line x1="513.94" y1="342.00" x2="513.94" y2="344.70" stroke="#5a5a5a" stroke-width="0.85"/>
<line x1="521.47" y1="342.00" x2="521.47" y2="344.70" stroke="#5a5a5a" stroke-width="0.85"/>
<line x1="527.84" y1="342.00" x2="527.84" y2="344.70" stroke="#5a5a5a" stroke-width="0.85"/>
<line x1="533.36" y1="342.00" x2="533.36" y2="344.70" stroke="#5a5a5a" stroke-width="0.85"/>
<line x1="538.22" y1="342.00" x2="538.22" y2="344.70" stroke="#5a5a5a" stroke-width="0.85"/>
<line x1="542.57" y1="342.00" x2="542.57" y2="345.80" stroke="#333333" stroke-width="0.85"/>
<line x1="571.20" y1="342.00" x2="571.20" y2="344.70" stroke="#5a5a5a" stroke-width="0.85"/>
<line x1="587.95" y1="342.00" x2="587.95" y2="344.70" stroke="#5a5a5a" stroke-width="0.85"/>
<line x1="599.83" y1="342.00" x2="599.83" y2="344.70" stroke="#5a5a5a" stroke-width="0.85"/>
<line x1="609.04" y1="342.00" x2="609.04" y2="344.70" stroke="#5a5a5a" stroke-width="0.85"/>
<line x1="616.57" y1="342.00" x2="616.57" y2="344.70" stroke="#5a5a5a" stroke-width="0.85"/>
<line x1="622.94" y1="342.00" x2="622.94" y2="344.70" stroke="#5a5a5a" stroke-width="0.85"/>
<line x1="628.46" y1="342.00" x2="628.46" y2="344.70" stroke="#5a5a5a" stroke-width="0.85"/>
<line x1="633.32" y1="342.00" x2="633.32" y2="344.70" stroke="#5a5a5a" stroke-width="0.85"/>
<line x1="637.67" y1="342.00" x2="637.67" y2="345.80" stroke="#333333" stroke-width="0.85"/>
<line x1="666.30" y1="342.00" x2="666.30" y2="344.70" stroke="#5a5a5a" stroke-width="0.85"/>
<line x1="683.05" y1="342.00" x2="683.05" y2="344.70" stroke="#5a5a5a" stroke-width="0.85"/>
<line x1="473.50" y1="193.56" x2="476.10" y2="193.56" stroke="#333333" stroke-width="0.85"/>
<line x1="473.50" y1="196.07" x2="476.10" y2="196.07" stroke="#333333" stroke-width="0.85"/>
<line x1="473.50" y1="198.19" x2="476.10" y2="198.19" stroke="#333333" stroke-width="0.85"/>
<line x1="473.50" y1="200.03" x2="476.10" y2="200.03" stroke="#333333" stroke-width="0.85"/>
<line x1="473.50" y1="201.65" x2="476.10" y2="201.65" stroke="#333333" stroke-width="0.85"/>
<line x1="472.10" y1="203.10" x2="476.10" y2="203.10" stroke="#333333" stroke-width="0.85"/>
<line x1="473.50" y1="212.64" x2="476.10" y2="212.64" stroke="#333333" stroke-width="0.85"/>
<line x1="473.50" y1="218.22" x2="476.10" y2="218.22" stroke="#333333" stroke-width="0.85"/>
<line x1="473.50" y1="222.17" x2="476.10" y2="222.17" stroke="#333333" stroke-width="0.85"/>
<line x1="473.50" y1="225.24" x2="476.10" y2="225.24" stroke="#333333" stroke-width="0.85"/>
<line x1="473.50" y1="227.75" x2="476.10" y2="227.75" stroke="#333333" stroke-width="0.85"/>
<line x1="473.50" y1="229.87" x2="476.10" y2="229.87" stroke="#333333" stroke-width="0.85"/>
<line x1="473.50" y1="231.71" x2="476.10" y2="231.71" stroke="#333333" stroke-width="0.85"/>
<line x1="473.50" y1="233.33" x2="476.10" y2="233.33" stroke="#333333" stroke-width="0.85"/>
<line x1="472.10" y1="234.78" x2="476.10" y2="234.78" stroke="#333333" stroke-width="0.85"/>
<line x1="473.50" y1="244.32" x2="476.10" y2="244.32" stroke="#333333" stroke-width="0.85"/>
<line x1="473.50" y1="249.90" x2="476.10" y2="249.90" stroke="#333333" stroke-width="0.85"/>
<line x1="473.50" y1="253.85" x2="476.10" y2="253.85" stroke="#333333" stroke-width="0.85"/>
<line x1="473.50" y1="256.92" x2="476.10" y2="256.92" stroke="#333333" stroke-width="0.85"/>
<line x1="473.50" y1="259.43" x2="476.10" y2="259.43" stroke="#333333" stroke-width="0.85"/>
<line x1="473.50" y1="261.55" x2="476.10" y2="261.55" stroke="#333333" stroke-width="0.85"/>
<line x1="473.50" y1="263.39" x2="476.10" y2="263.39" stroke="#333333" stroke-width="0.85"/>
<line x1="473.50" y1="265.01" x2="476.10" y2="265.01" stroke="#333333" stroke-width="0.85"/>
<line x1="472.10" y1="266.46" x2="476.10" y2="266.46" stroke="#333333" stroke-width="0.85"/>
<line x1="473.50" y1="276.00" x2="476.10" y2="276.00" stroke="#333333" stroke-width="0.85"/>
<line x1="473.50" y1="281.58" x2="476.10" y2="281.58" stroke="#333333" stroke-width="0.85"/>
<line x1="473.50" y1="285.53" x2="476.10" y2="285.53" stroke="#333333" stroke-width="0.85"/>
<line x1="473.50" y1="288.60" x2="476.10" y2="288.60" stroke="#333333" stroke-width="0.85"/>
<line x1="473.50" y1="291.11" x2="476.10" y2="291.11" stroke="#333333" stroke-width="0.85"/>
<line x1="473.50" y1="293.23" x2="476.10" y2="293.23" stroke="#333333" stroke-width="0.85"/>
<line x1="473.50" y1="295.07" x2="476.10" y2="295.07" stroke="#333333" stroke-width="0.85"/>
<line x1="473.50" y1="296.69" x2="476.10" y2="296.69" stroke="#333333" stroke-width="0.85"/>
<line x1="472.10" y1="298.14" x2="476.10" y2="298.14" stroke="#333333" stroke-width="0.85"/>
<line x1="473.50" y1="307.68" x2="476.10" y2="307.68" stroke="#333333" stroke-width="0.85"/>
<line x1="473.50" y1="313.26" x2="476.10" y2="313.26" stroke="#333333" stroke-width="0.85"/>
<line x1="473.50" y1="317.21" x2="476.10" y2="317.21" stroke="#333333" stroke-width="0.85"/>
<line x1="473.50" y1="320.28" x2="476.10" y2="320.28" stroke="#333333" stroke-width="0.85"/>
<line x1="473.50" y1="322.79" x2="476.10" y2="322.79" stroke="#333333" stroke-width="0.85"/>
<line x1="473.50" y1="324.91" x2="476.10" y2="324.91" stroke="#333333" stroke-width="0.85"/>
<line x1="473.50" y1="326.75" x2="476.10" y2="326.75" stroke="#333333" stroke-width="0.85"/>
<line x1="473.50" y1="328.37" x2="476.10" y2="328.37" stroke="#333333" stroke-width="0.85"/>
<line x1="472.10" y1="329.82" x2="476.10" y2="329.82" stroke="#333333" stroke-width="0.85"/>
<line x1="473.50" y1="339.36" x2="476.10" y2="339.36" stroke="#333333" stroke-width="0.85"/>
<text transform="translate(580.10,187.20) scale(0.91,1)" font-size="11.2" text-anchor="middle" fill="#262626"><tspan font-style="italic">χ</tspan> = 50</text>
<text transform="translate(542.87,357.90) scale(0.9,1)" font-size="9.5" text-anchor="middle" fill="#262626">10<tspan font-size="6.3" dy="-3.9">2</tspan></text>
<text transform="translate(637.97,357.90) scale(0.9,1)" font-size="9.5" text-anchor="middle" fill="#262626">10<tspan font-size="6.3" dy="-3.9">3</tspan></text>
<text x="580.40" y="372.60" font-size="10.2" text-anchor="middle" fill="#262626">Time <tspan font-style="italic">t</tspan> (s)</text>
<polyline points="48.8,153.8 104.0,151.7 190.0,148.5 240.0,146.6" fill="none" stroke="#8c564b" stroke-width="1.35" stroke-linejoin="round"/>
<polyline points="48.8,153.8 104.0,151.7 190.0,148.5 240.0,146.6" fill="none" stroke="#9467bd" stroke-width="1.35" stroke-linejoin="round"/>
<polyline points="48.8,153.8 104.0,151.7 190.0,148.5 240.0,146.6" fill="none" stroke="#d62728" stroke-width="1.35" stroke-linejoin="round"/>
<polyline points="48.8,153.4 104.0,151.3 190.0,148.1 240.0,146.2" fill="none" stroke="#2ca02c" stroke-width="1.35" stroke-linejoin="round"/>
<polyline points="48.8,154.2 104.0,152.1 190.0,148.9 240.0,147.0" fill="none" stroke="#ff7f0e" stroke-width="1.35" stroke-linejoin="round"/>
<polyline points="48.8,153.8 104.0,151.7 190.0,148.5 240.0,146.6" fill="none" stroke="#1f77b4" stroke-width="1.35" stroke-linejoin="round"/>
<line x1="48.55" y1="23.90" x2="240.4" y2="23.90" stroke="#ff2a2a" stroke-width="1.5" stroke-dasharray="1.3,1.27"/>
<polygon points="330.0,100.0 345.0,94.0 360.0,92.0 372.0,89.0 400.0,81.0 420.0,74.0 440.0,66.0 457.5,61.0 457.5,70.0 440.0,74.5 420.0,83.0 400.0,87.0 372.0,93.5 360.0,98.0 345.0,100.0 330.0,104.0" fill="#1f77b4" fill-opacity="0.14" stroke="none"/>
<polygon points="365.0,92.0 375.0,86.0 400.0,79.0 414.7,71.6 420.3,64.1 433.5,61.3 441.0,58.5 450.3,54.7 452.2,49.1 457.5,47.4 457.5,64.0 451.0,66.0 441.0,69.0 420.0,80.0 400.0,83.0 375.0,90.0 365.0,95.0" fill="#ff7f0e" fill-opacity="0.14" stroke="none"/>
<polygon points="330.0,111.0 362.0,105.5 367.4,102.1 384.7,96.1 406.1,90.0 420.0,84.5 441.0,75.0 457.5,64.0 457.5,72.0 441.0,81.5 420.0,90.0 400.0,96.0 385.0,101.0 362.0,108.8 330.0,114.5" fill="#2ca02c" fill-opacity="0.14" stroke="none"/>
<polygon points="330.0,115.0 362.0,108.5 384.0,104.0 400.0,98.8 428.0,89.5 450.0,80.0 457.5,75.5 457.5,80.0 428.0,93.5 400.0,103.0 384.0,108.0 362.0,112.0 330.0,118.5" fill="#d62728" fill-opacity="0.14" stroke="none"/>
<polyline points="267.0,154.4 300.0,153.2 330.0,152.2 362.0,150.8 394.0,149.5 430.0,148.3 457.5,147.1" fill="none" stroke="#8c564b" stroke-width="1.35" stroke-linejoin="round"/>
<polyline points="267.0,132.2 297.0,128.9 332.0,124.9 362.0,119.6 394.0,114.5 405.0,112.7 429.0,107.5 437.0,105.1 457.5,100.5" fill="none" stroke="#9467bd" stroke-width="1.35" stroke-linejoin="round"/>
<polyline points="267.0,126.5 297.0,122.5 315.0,119.2 330.0,116.2 362.0,109.0 384.0,104.1 400.0,99.2 415.0,94.2 430.0,88.4 439.1,83.9 450.3,79.0 457.5,75.8" fill="none" stroke="#d62728" stroke-width="1.35" stroke-linejoin="round"/>
<polyline points="267.0,125.9 298.0,121.8 315.0,118.6 330.0,114.0 362.0,107.8 368.5,106.6 378.0,103.3 384.6,99.3 396.0,96.2 405.6,93.0 415.3,89.8 428.0,84.9 441.0,80.1 447.0,77.7 451.0,73.0 457.5,70.0" fill="none" stroke="#2ca02c" stroke-width="1.35" stroke-linejoin="round"/>
<polyline points="267.0,115.3 297.0,108.5 330.0,101.9 362.0,93.4 387.8,84.9 400.0,80.9 405.6,80.1 415.3,76.1 428.1,70.5 441.0,65.7 450.6,62.0 455.4,60.9 457.5,58.4" fill="none" stroke="#ff7f0e" stroke-width="1.35" stroke-linejoin="round"/>
<polyline points="267.0,114.1 297.0,107.5 330.0,102.1 346.0,97.2 361.0,94.8 363.0,93.6 371.7,91.3 387.8,87.3 400.0,84.1 405.6,83.6 413.7,82.5 417.0,79.0 421.7,76.9 429.7,72.1 441.0,68.1 450.6,65.7 457.5,64.5" fill="none" stroke="#1f77b4" stroke-width="1.35" stroke-linejoin="round"/>
<line x1="266.55" y1="23.90" x2="458.4" y2="23.90" stroke="#ff2a2a" stroke-width="1.5" stroke-dasharray="1.3,1.27"/>
<polygon points="485.0,84.0 497.0,78.0 520.0,65.3 542.5,48.2 565.0,45.5 568.0,40.0 573.5,30.0 576.0,26.5 600.0,25.0 612.0,24.5 612.0,26.0 611.0,40.0 609.0,56.0 605.0,58.5 590.0,63.0 585.0,64.0 580.0,66.0 560.0,70.0 541.0,72.4 520.0,82.0 485.0,94.0" fill="#1f77b4" fill-opacity="0.14" stroke="none"/>
<polygon points="485.0,86.0 520.0,69.0 530.7,64.2 542.5,48.2 550.0,42.8 559.6,38.0 565.0,32.0 567.0,30.0 570.0,26.0 600.0,24.0 600.0,26.0 590.0,30.0 587.0,45.0 584.0,62.0 580.0,66.0 560.0,69.0 541.0,72.0 520.0,80.0 485.0,93.0" fill="#ff7f0e" fill-opacity="0.14" stroke="none"/>
<polygon points="485.0,100.0 510.0,91.7 538.0,77.0 560.0,68.0 575.0,57.0 583.0,52.0 585.0,40.0 608.0,35.0 612.0,30.0 616.0,26.0 660.0,25.0 660.0,37.0 635.0,38.5 616.0,40.0 614.0,66.0 606.0,70.0 590.0,74.0 568.0,77.0 552.0,83.0 536.0,88.0 510.0,98.0 485.0,107.0" fill="#2ca02c" fill-opacity="0.14" stroke="none"/>
<polygon points="485.0,110.0 510.0,102.9 536.0,91.7 568.0,82.0 596.0,73.2 612.0,68.0 614.0,48.0 632.0,46.0 640.0,40.0 645.0,34.0 651.0,26.0 676.0,25.0 676.0,30.0 652.0,39.0 650.0,67.0 613.0,74.0 598.0,83.5 580.7,90.0 552.0,97.4 542.0,103.8 510.0,110.0 485.0,116.0" fill="#d62728" fill-opacity="0.14" stroke="none"/>
<polygon points="565.0,107.5 590.0,99.5 625.0,88.0 630.0,82.0 640.0,79.0 649.3,69.2 662.1,62.8 672.8,58.5 676.0,57.4 676.0,73.5 649.3,82.0 630.0,88.4 625.0,92.5 590.0,104.5 565.0,112.0" fill="#9467bd" fill-opacity="0.14" stroke="none"/>
<polyline points="485.0,154.2 520.0,153.2 550.0,152.2 580.0,150.8 612.0,149.5 648.0,148.3 676.0,147.0" fill="none" stroke="#8c564b" stroke-width="1.35" stroke-linejoin="round"/>
<polyline points="485.2,123.7 510.0,120.1 536.0,116.5 552.0,113.6 568.0,110.9 569.7,108.5 579.3,106.6 587.3,102.1 596.0,99.5 610.0,93.7 627.7,89.7 635.7,84.1 649.4,78.5 651.8,74.4 656.5,72.7 676.0,67.3" fill="none" stroke="#9467bd" stroke-width="1.35" stroke-linejoin="round"/>
<polyline points="485.2,113.3 510.0,106.1 536.0,99.7 552.0,93.7 568.0,90.0 581.0,82.8 594.0,77.6 603.6,75.2 606.8,71.7 613.3,68.8 622.1,64.5 626.1,62.1 628.5,61.6 630.9,55.0 637.3,52.0 642.1,50.1 649.1,47.5 650.8,47.4 651.2,34.5 655.7,32.7 658.7,31.5 665.3,29.8 669.4,27.1 671.2,26.4 676.0,26.1" fill="none" stroke="#d62728" stroke-width="1.35" stroke-linejoin="round"/>
<polyline points="485.2,104.2 510.0,95.7 536.0,85.2 552.0,77.2 568.0,71.2 574.5,70.0 579.3,68.3 584.4,64.1 596.0,61.5 603.7,60.1 606.1,53.7 614.1,52.9 615.5,52.5 616.5,36.2 621.3,36.0 623.0,32.8 632.5,31.6 645.4,28.8 658.7,28.0 659.4,23.9 676.0,23.9" fill="none" stroke="#2ca02c" stroke-width="1.35" stroke-linejoin="round"/>
<polyline points="485.2,91.2 510.0,81.6 536.0,71.0 544.0,66.1 552.0,60.5 564.1,57.8 567.0,56.0 570.5,52.5 576.9,52.5 584.1,50.9 586.0,52.0 587.2,30.0 596.0,28.0 599.6,23.9 676.0,23.9" fill="none" stroke="#ff7f0e" stroke-width="1.35" stroke-linejoin="round"/>
<polyline points="485.2,90.5 510.0,81.2 536.0,70.1 544.0,65.3 552.0,62.1 564.0,59.4 577.0,57.3 579.3,55.7 582.5,51.7 584.1,49.3 596.0,48.8 603.6,48.2 608.4,45.3 610.2,44.8 611.6,26.0 614.9,23.9 676.0,23.9" fill="none" stroke="#1f77b4" stroke-width="1.35" stroke-linejoin="round"/>
<line x1="484.55" y1="23.90" x2="676.4" y2="23.90" stroke="#ff2a2a" stroke-width="1.5" stroke-dasharray="1.3,1.27"/>
<polygon points="49.0,243.8 77.0,223.3 95.0,213.6 105.0,207.2 115.0,205.0 132.0,203.2 132.0,204.0 115.0,208.0 100.0,215.0 95.0,222.0 78.9,241.0 66.0,253.0 49.0,258.0" fill="#1f77b4" fill-opacity="0.14" stroke="none"/>
<polygon points="49.0,250.0 77.0,229.0 95.0,217.0 100.0,214.0 115.0,207.0 130.0,203.5 142.0,203.2 142.0,204.0 130.0,207.0 118.0,213.6 100.0,224.9 95.0,230.0 78.0,250.0 60.0,257.0 49.0,258.5" fill="#ff7f0e" fill-opacity="0.14" stroke="none"/>
<polygon points="49.0,264.0 77.3,257.0 97.6,242.0 124.4,217.4 142.5,212.0 148.9,207.8 161.8,204.6 176.0,203.2 177.0,204.0 176.0,214.5 161.8,216.3 146.8,219.5 144.6,242.0 142.5,243.5 112.6,252.7 97.6,260.1 77.3,269.8 49.0,277.0" fill="#2ca02c" fill-opacity="0.14" stroke="none"/>
<polygon points="49.0,283.5 77.0,274.5 100.0,262.8 116.0,257.2 130.0,252.4 145.0,242.5 157.0,232.9 160.0,228.1 165.0,219.3 175.0,216.0 181.3,215.3 194.2,207.8 200.6,204.3 227.0,203.2 227.5,204.0 227.0,212.7 210.0,212.7 209.0,249.0 205.0,251.2 190.0,253.6 158.0,255.2 130.0,262.0 100.0,272.5 77.0,281.5 49.0,289.3" fill="#d62728" fill-opacity="0.14" stroke="none"/>
<polygon points="49.0,297.5 100.0,286.5 150.0,275.0 168.0,264.1 200.0,253.6 210.0,240.0 225.0,220.0 235.0,210.7 239.6,210.0 239.6,228.8 225.0,240.0 222.0,252.0 210.0,256.0 200.0,262.5 168.0,273.7 150.0,279.0 100.0,290.5 49.0,301.5" fill="#9467bd" fill-opacity="0.14" stroke="none"/>
<polyline points="49.2,333.3 100.0,331.5 150.0,329.5 200.0,327.5 240.0,326.1" fill="none" stroke="#8c564b" stroke-width="1.35" stroke-linejoin="round"/>
<polyline points="49.2,299.4 77.3,294.5 101.3,286.8 116.0,283.8 132.0,280.6 145.0,277.5 158.0,275.1 167.6,271.3 178.9,267.6 180.5,264.1 196.5,256.8 205.3,252.0 211.0,246.1 219.0,244.0 224.1,240.8 224.7,236.1 228.7,231.4 232.8,228.1 236.1,224.7 239.6,220.7" fill="none" stroke="#9467bd" stroke-width="1.35" stroke-linejoin="round"/>
<polyline points="49.2,286.4 77.3,278.1 100.0,268.5 116.0,262.8 130.5,257.2 143.3,250.8 158.0,247.3 165.2,243.3 168.4,239.3 177.3,236.1 192.5,233.7 194.9,230.5 205.3,228.9 206.9,225.7 209.0,224.6 209.7,208.5 224.1,208.0 224.7,206.0 226.7,205.4 227.4,202.9 239.8,202.9" fill="none" stroke="#d62728" stroke-width="1.35" stroke-linejoin="round"/>
<polyline points="49.2,273.8 77.3,264.3 94.4,255.9 106.2,246.3 115.8,237.7 124.4,232.8 143.6,227.4 145.0,224.0 146.8,214.2 154.3,208.8 161.8,207.1 175.6,206.0 176.9,202.9 239.8,202.9" fill="none" stroke="#2ca02c" stroke-width="1.35" stroke-linejoin="round"/>
<polyline points="49.2,255.4 78.1,240.1 94.9,222.5 100.0,218.5 108.0,213.6 112.8,212.0 116.0,211.2 125.7,206.4 128.9,204.0 141.7,202.9 239.8,202.9" fill="none" stroke="#ff7f0e" stroke-width="1.35" stroke-linejoin="round"/>
<polyline points="49.2,251.5 77.3,228.1 94.9,216.9 100.0,212.8 108.0,208.0 116.0,206.4 125.7,204.0 132.0,202.9 239.8,202.9" fill="none" stroke="#1f77b4" stroke-width="1.35" stroke-linejoin="round"/>
<line x1="48.55" y1="202.90" x2="240.4" y2="202.90" stroke="#ff2a2a" stroke-width="1.5" stroke-dasharray="1.3,1.27"/>
<polygon points="267.0,242.5 308.2,210.4 320.0,206.0 334.0,203.5 342.0,203.2 342.0,204.0 320.0,210.0 312.0,214.0 305.0,230.0 300.0,247.3 296.0,250.0 284.0,252.4 267.0,256.0" fill="#1f77b4" fill-opacity="0.14" stroke="none"/>
<polygon points="267.0,252.0 296.9,223.3 305.0,217.7 318.0,213.0 340.0,207.0 356.0,203.2 356.0,205.0 348.0,212.0 334.0,215.3 318.0,224.1 296.0,240.0 267.0,262.0" fill="#ff7f0e" fill-opacity="0.14" stroke="none"/>
<polygon points="267.0,267.5 290.0,254.0 311.3,240.0 330.6,226.0 349.8,217.0 360.5,209.9 373.4,205.6 379.8,204.6 394.0,203.2 395.0,204.0 394.0,216.0 380.0,217.4 365.0,219.5 363.0,238.0 350.0,246.0 335.0,249.5 320.0,254.0 293.0,265.3 267.0,275.7" fill="#2ca02c" fill-opacity="0.14" stroke="none"/>
<polygon points="267.0,283.0 293.7,276.0 318.0,264.5 334.0,254.8 341.0,251.0 349.8,237.7 360.5,236.6 364.8,233.4 379.8,228.1 392.8,222.7 396.0,222.0 397.0,215.3 405.6,205.6 420.6,204.6 430.0,203.2 431.0,204.0 429.1,211.0 420.6,219.5 414.2,220.6 405.6,228.1 397.0,230.2 395.0,246.3 367.0,251.6 350.0,261.0 340.0,265.5 318.0,273.3 293.7,282.0 267.0,289.0" fill="#d62728" fill-opacity="0.14" stroke="none"/>
<polygon points="267.0,299.5 320.0,290.2 340.0,285.5 350.0,279.7 376.0,268.5 400.0,260.4 410.0,257.2 413.0,246.0 416.0,240.9 440.0,229.2 448.0,215.3 457.7,213.1 457.7,248.4 440.0,253.8 436.0,256.4 420.0,262.0 400.0,272.5 376.0,280.5 350.0,287.0 340.0,288.0 320.0,292.2 267.0,301.5" fill="#9467bd" fill-opacity="0.14" stroke="none"/>
<polyline points="266.9,333.3 317.7,331.5 367.7,329.5 417.7,327.5 457.7,326.1" fill="none" stroke="#8c564b" stroke-width="1.35" stroke-linejoin="round"/>
<polyline points="267.2,300.2 293.7,295.7 320.0,290.9 334.0,288.5 347.7,285.3 354.9,282.1 365.3,279.7 376.0,275.2 390.4,270.1 393.6,267.2 403.3,263.6 410.5,262.0 417.7,256.4 424.1,253.2 436.0,249.0 443.8,246.3 446.0,242.7 448.1,234.5 452.4,233.4 457.7,231.3" fill="none" stroke="#9467bd" stroke-width="1.35" stroke-linejoin="round"/>
<polyline points="267.2,286.1 293.7,278.9 312.9,272.5 320.0,268.5 334.0,261.2 346.9,257.2 353.3,251.6 366.1,248.4 369.3,246.0 371.0,244.9 378.0,240.9 385.6,238.5 388.8,233.2 395.3,231.6 396.9,222.5 400.9,220.9 406.5,216.1 411.3,211.7 417.7,210.1 420.1,206.4 424.1,204.8 428.9,204.0 429.7,202.9 457.7,202.9" fill="none" stroke="#d62728" stroke-width="1.35" stroke-linejoin="round"/>
<polyline points="267.2,273.3 293.7,261.2 312.9,254.0 320.0,247.3 334.0,238.0 346.9,235.3 353.3,229.4 361.3,228.1 362.9,224.9 366.1,216.1 369.3,212.8 373.4,212.0 375.8,209.6 382.4,208.0 392.8,206.4 394.4,202.9 457.7,202.9" fill="none" stroke="#2ca02c" stroke-width="1.35" stroke-linejoin="round"/>
<polyline points="267.2,259.2 284.1,246.3 296.1,235.3 320.0,218.5 326.0,214.5 334.0,210.1 346.1,207.6 352.5,204.8 356.5,202.9 360.0,202.9 457.7,202.9" fill="none" stroke="#ff7f0e" stroke-width="1.35" stroke-linejoin="round"/>
<polyline points="267.2,248.9 296.1,234.2 312.9,210.1 320.0,208.0 327.6,206.0 334.0,204.0 342.1,202.9 457.7,202.9" fill="none" stroke="#1f77b4" stroke-width="1.35" stroke-linejoin="round"/>
<line x1="266.55" y1="202.90" x2="458.4" y2="202.90" stroke="#ff2a2a" stroke-width="1.5" stroke-dasharray="1.3,1.27"/>
<polygon points="485.0,238.5 526.2,208.8 538.0,205.0 555.0,203.2 555.0,204.0 538.0,210.0 531.0,215.3 525.0,228.1 516.0,244.1 514.0,249.0 500.0,249.0 485.0,256.0" fill="#1f77b4" fill-opacity="0.14" stroke="none"/>
<polygon points="485.0,254.0 514.0,231.3 530.0,220.9 536.0,215.3 545.0,209.6 560.0,205.0 578.0,203.2 578.0,204.0 565.0,208.0 555.0,212.0 545.0,216.9 538.0,222.5 530.0,229.7 514.0,239.3 500.0,252.0 485.0,262.0" fill="#ff7f0e" fill-opacity="0.14" stroke="none"/>
<polygon points="485.0,267.0 530.4,242.0 551.8,220.6 576.4,209.9 597.8,204.6 622.0,203.2 623.0,204.0 622.0,212.0 597.8,214.2 578.5,218.5 565.7,230.2 552.9,236.6 542.2,252.7 530.4,258.5 513.0,266.0 485.0,276.5" fill="#2ca02c" fill-opacity="0.14" stroke="none"/>
<polygon points="485.0,285.3 514.0,275.7 536.0,262.0 560.0,248.0 570.0,241.0 591.4,233.4 604.2,230.2 621.3,228.1 622.4,206.0 637.0,205.0 667.0,203.2 668.0,204.0 667.0,218.4 637.0,218.4 636.0,249.6 606.0,252.0 605.0,256.9 594.0,257.7 580.0,262.0 560.0,263.6 552.0,270.1 536.0,275.7 514.0,282.9 485.0,289.3" fill="#d62728" fill-opacity="0.14" stroke="none"/>
<polygon points="485.0,299.0 530.0,286.9 560.0,281.3 594.0,267.3 620.0,256.9 625.0,252.0 640.0,241.5 655.0,228.0 667.0,219.5 675.7,208.8 675.7,248.4 660.0,251.6 640.0,259.5 620.0,267.3 594.0,279.3 560.0,286.1 530.0,291.0 485.0,303.0" fill="#9467bd" fill-opacity="0.14" stroke="none"/>
<polyline points="484.9,333.3 535.7,331.5 585.7,329.5 635.7,327.5 675.7,326.1" fill="none" stroke="#8c564b" stroke-width="1.35" stroke-linejoin="round"/>
<polyline points="485.2,301.0 514.0,294.9 538.0,289.3 552.0,286.9 579.3,280.5 584.1,277.3 596.0,273.8 606.8,267.3 619.7,262.0 635.7,256.9 638.9,252.8 642.1,251.2 648.5,249.2 655.4,246.9 657.5,243.0 666.0,240.9 667.1,236.2 670.3,234.5 675.7,231.9" fill="none" stroke="#9467bd" stroke-width="1.35" stroke-linejoin="round"/>
<polyline points="485.2,288.0 514.1,280.5 536.0,270.3 548.8,263.6 559.3,258.5 565.7,256.0 570.5,251.6 580.9,248.1 588.9,246.1 596.0,244.9 606.8,240.9 619.7,237.7 622.9,235.3 629.3,232.9 635.7,230.5 636.8,230.3 637.2,216.3 640.4,213.4 642.9,212.0 644.5,208.5 654.0,208.0 666.0,207.1 667.1,202.9 675.7,202.9" fill="none" stroke="#d62728" stroke-width="1.35" stroke-linejoin="round"/>
<polyline points="485.2,273.3 513.3,261.5 530.4,252.7 538.0,245.5 542.4,239.3 552.0,227.8 564.9,223.3 576.1,214.5 584.1,212.8 590.5,211.2 594.6,208.0 610.0,206.0 621.3,204.8 622.9,202.9 675.7,202.9" fill="none" stroke="#2ca02c" stroke-width="1.35" stroke-linejoin="round"/>
<polyline points="485.2,257.6 498.9,246.0 514.1,233.7 530.9,224.9 538.0,218.5 542.4,214.5 552.0,208.8 561.7,206.0 571.3,204.0 577.7,202.9 675.7,202.9" fill="none" stroke="#ff7f0e" stroke-width="1.35" stroke-linejoin="round"/>
<polyline points="485.2,247.7 514.1,233.2 530.9,208.5 538.0,206.9 544.0,204.8 552.0,203.7 555.0,202.9 675.7,202.9" fill="none" stroke="#1f77b4" stroke-width="1.35" stroke-linejoin="round"/>
<line x1="484.55" y1="202.90" x2="676.4" y2="202.90" stroke="#ff2a2a" stroke-width="1.5" stroke-dasharray="1.3,1.27"/>
<line x1="45" y1="60.00" x2="59" y2="60.00" stroke="#8c564b" stroke-width="1.5" stroke-opacity="0.72"/>
<text transform="translate(63.3,62.90) scale(0.92,1)" font-size="8.6" fill="#262626"><tspan font-style="italic">p</tspan> = 1</text>
<line x1="45" y1="69.35" x2="59" y2="69.35" stroke="#9467bd" stroke-width="1.5" stroke-opacity="0.72"/>
<text transform="translate(63.3,72.25) scale(0.92,1)" font-size="8.6" fill="#262626"><tspan font-style="italic">p</tspan> = 2</text>
<line x1="45" y1="78.70" x2="59" y2="78.70" stroke="#d62728" stroke-width="1.5" stroke-opacity="0.72"/>
<text transform="translate(63.3,81.60) scale(0.92,1)" font-size="8.6" fill="#262626"><tspan font-style="italic">p</tspan> = 3</text>
<line x1="45" y1="88.05" x2="59" y2="88.05" stroke="#2ca02c" stroke-width="1.5" stroke-opacity="0.72"/>
<text transform="translate(63.3,90.95) scale(0.92,1)" font-size="8.6" fill="#262626"><tspan font-style="italic">p</tspan> = 4</text>
<line x1="45" y1="97.40" x2="59" y2="97.40" stroke="#ff7f0e" stroke-width="1.5" stroke-opacity="0.72"/>
<text transform="translate(63.3,100.30) scale(0.92,1)" font-size="8.6" fill="#262626"><tspan font-style="italic">p</tspan> = 5</text>
<line x1="45" y1="106.75" x2="59" y2="106.75" stroke="#1f77b4" stroke-width="1.5" stroke-opacity="0.72"/>
<text transform="translate(63.3,109.65) scale(0.92,1)" font-size="8.6" fill="#262626"><tspan font-style="italic">p</tspan> = 6</text>
<line x1="45" y1="116.10" x2="59" y2="116.10" stroke="#ff2a2a" stroke-width="1.2" stroke-dasharray="1.2,1.4"/>
<text x="63" y="119.30" font-size="9" fill="#262626">HV<tspan font-size="6" dy="2.4">max</tspan></text>
</svg></body></html>
